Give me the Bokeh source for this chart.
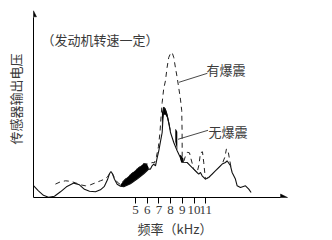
from bokeh.plotting import figure
from bokeh.models import Range1d, FixedTicker, Label, Arrow, NormalHead
from bokeh.embed import file_html
from bokeh.resources import INLINE

# ---- data (frequency in kHz, sensor output voltage in relative units) ----
freq_no_knock = [-3.68, -3.28, -2.85, -2.42, -1.91, -1.40, -0.89, -0.26, 0.22, 0.65, 1.08, 1.59,
                 2.01, 2.35, 2.61, 2.78, 2.91, 3.04, 3.21, 3.44, 3.72, 4.00, 4.57, 5.17, 5.71,
                 5.98, 6.13, 6.28, 6.42, 6.56, 6.71, 6.85, 6.99, 7.13, 7.28, 7.35, 7.41, 7.56,
                 7.69, 7.84, 7.99, 8.27, 8.56, 8.84, 9.10, 9.41, 9.69, 9.97, 10.26, 10.40, 10.55,
                 10.69, 10.97, 11.25, 11.54, 11.97, 12.40, 12.68, 12.82, 13.11, 13.25, 13.53,
                 13.68, 13.96, 14.39, 14.67, 14.87]
volt_no_knock = [1.17, 0.67, 0.22, 0.02, 0.12, 0.57, 1.07, 1.44, 1.27, 0.82, 0.62, 0.57,
                 0.77, 1.12, 1.77, 2.37, 2.60, 2.37, 1.82, 1.32, 1.12, 1.07, 1.37, 1.87, 2.37,
                 2.67, 2.84, 2.84, 3.17, 3.34, 3.17, 3.97, 4.67, 5.57, 6.50, 7.90, 9.00, 8.77,
                 8.27, 7.47, 6.50, 5.50, 4.67, 3.97, 3.52, 3.50, 3.17, 2.84, 2.50, 2.34, 2.50,
                 2.17, 1.84, 2.00, 2.34, 2.84, 3.34, 3.50, 3.67, 3.17, 2.50, 1.84,
                 1.17, 1.00, 1.17, 0.84, 0.50]

freq_knock = [-1.83, -1.40, -0.97, -0.55, -0.12, 0.31, 0.73, 1.16, 1.59, 2.01, 2.35, 2.61, 2.91,
              3.04, 3.21, 3.46, 3.72, 4.00, 4.57, 5.17, 5.71, 6.00, 6.19, 6.42, 6.62, 6.79, 6.96,
              7.09, 7.19, 7.28, 7.41, 7.56, 7.70, 7.84, 7.99, 8.13, 8.27, 8.41, 8.56, 8.69, 8.84,
              8.95, 8.98, 8.99, 9.14, 9.27, 9.44, 9.61, 9.74, 9.97, 10.26, 10.42, 10.55, 10.72,
              10.83, 10.97, 11.25, 11.54, 11.97, 12.40, 12.64, 12.76, 12.89, 13.02, 13.15]
volt_knock = [1.34, 1.57, 1.67, 1.62, 1.47, 1.27, 1.17, 1.27, 1.47, 1.67, 1.82, 2.07, 2.57,
              2.37, 1.97, 1.52, 1.30, 1.70, 2.30, 2.90, 3.40, 3.35, 3.37, 3.50, 3.47, 4.07, 5.07,
              6.47, 8.17, 9.50, 10.87, 11.67, 13.0, 14.0, 14.4, 14.5, 14.0, 13.0, 12.0, 11.0, 9.84,
              8.67, 6.67, 3.97, 3.67, 4.17, 4.52, 4.47, 3.87, 2.84, 2.50, 3.27, 4.47, 4.57,
              3.47, 1.84, 2.00, 2.34, 2.84, 3.34, 4.07, 4.84, 4.77, 3.87, 3.07]

# black difference regions (frequency, lower edge, upper edge)
band_freq = [3.72, 4.00, 4.57, 5.17, 5.71, 5.98, 6.13]
band_low = [1.12, 1.07, 1.37, 1.87, 2.37, 2.67, 2.84]
band_high = [1.27, 1.70, 2.30, 2.90, 3.40, 3.35, 2.97]

spike_freq = [7.26, 7.35, 7.41, 7.56, 7.70, 7.84, 7.99]
spike_low = [6.87, 7.87, 8.27, 8.27, 7.97, 7.27, 6.50]
spike_high = [8.47, 8.97, 9.07, 8.92, 8.47, 7.77, 6.87]

bar_freq = [8.40, 8.48, 8.57]
bar_low = [5.57, 5.17, 4.77]
bar_high = [6.87, 6.77, 6.57]

blob_freq = [8.80, 8.92, 9.10]
blob_low = [3.87, 3.47, 3.47]
blob_high = [4.27, 4.17, 3.87]

tick_values = [5, 6, 7, 8, 9, 10, 11]

CJK = "Noto Sans CJK SC"
TXT = "#3a3a3a"

p = figure(width=332, height=240, output_backend="svg", toolbar_location=None,
           x_range=Range1d(-3.70, 20.45), y_range=Range1d(0, 19.7),
           min_border_left=33, min_border_right=16, min_border_top=0, min_border_bottom=43)
p.outline_line_color = None
p.xgrid.visible = False
p.ygrid.visible = False
p.background_fill_color = "white"

# x axis
xa = p.xaxis[0]
xa.ticker = FixedTicker(ticks=tick_values, minor_ticks=[])
xa.bounds = (-3.70, 17.4)
xa.major_tick_out = 6
xa.major_tick_in = 0
xa.minor_tick_out = 0
xa.minor_tick_in = 0
xa.axis_line_color = "black"
xa.major_tick_line_color = "black"
xa.major_label_text_font = "Liberation Serif"
xa.major_label_text_font_size = "13px"
xa.major_label_text_color = TXT
xa.major_label_standoff = 2
xa.axis_label = "频率（kHz）"
xa.axis_label_text_font = CJK
xa.axis_label_text_font_style = "normal"
xa.axis_label_text_font_size = "13px"
xa.axis_label_text_color = TXT
xa.axis_label_standoff = 2

# y axis
ya = p.yaxis[0]
ya.ticker = FixedTicker(ticks=[], minor_ticks=[])
ya.bounds = (0, 18.0)
ya.major_tick_out = 0
ya.major_tick_in = 0
ya.minor_tick_out = 0
ya.minor_tick_in = 0
ya.major_label_standoff = 0
ya.axis_line_color = "black"
ya.axis_label = "传感器输出电压"
ya.axis_label_text_font = CJK
ya.axis_label_text_font_style = "normal"
ya.axis_label_text_font_size = "13px"
ya.axis_label_text_color = TXT
ya.axis_label_standoff = 9

# arrow heads on axes
p.add_layout(Arrow(end=NormalHead(size=7, fill_color="black", line_color="black", line_width=0.5),
                   x_start=17.0, y_start=0, x_end=17.98, y_end=0, line_color="black", line_width=1))
p.add_layout(Arrow(end=NormalHead(size=6, fill_color="black", line_color="black", line_width=0.5),
                   x_start=-3.70, y_start=17.8, x_end=-3.70, y_end=18.67, line_color="black", line_width=1))

# black filled difference regions
for fx, lo, hi in [(band_freq, band_low, band_high), (spike_freq, spike_low, spike_high),
                   (bar_freq, bar_low, bar_high), (blob_freq, blob_low, blob_high)]:
    p.varea(x=fx, y1=lo, y2=hi, fill_color="black")

# curves
p.line(freq_no_knock, volt_no_knock, line_color="#111111", line_width=1.1)
p.line(freq_knock, volt_knock, line_color="#222222", line_width=1.0, line_dash="5 4")

# leader lines
p.line([8.71, 11.14], [11.52, 12.42], line_color="#333333", line_width=0.9)
p.line([8.63, 11.19], [5.82, 6.72], line_color="#333333", line_width=0.9)

# texts
def lab(x, y, t, **kw):
    p.add_layout(Label(x=x, y=y, text=t, text_font=CJK, text_font_size="13px",
                       text_color=TXT, text_baseline="middle", **kw))

lab(11.06, 12.82, "有爆震", text_align="left")
lab(11.23, 6.57, "无爆震", text_align="left")
lab(-3.02, 15.77, "（发动机转速一定）", text_align="left")

open("out.html", "w").write(file_html(p, INLINE))
